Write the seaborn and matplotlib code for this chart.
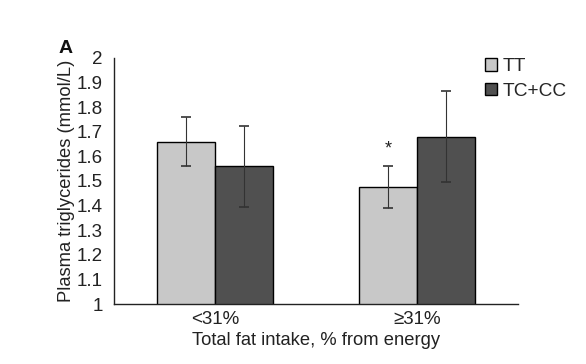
import pandas as pd
import seaborn as sns
import matplotlib.pyplot as plt

intake = ["<31%", "<31%", "≥31%", "≥31%"]
genotype = ["TT", "TC+CC", "TT", "TC+CC"]
means = [1.66, 1.56, 1.475, 1.68]
errs = [0.10, 0.165, 0.085, 0.185]
colors = {"TT": "#c8c8c8", "TC+CC": "#505050"}

df = pd.DataFrame({"intake": intake, "genotype": genotype, "mean": means, "err": errs})

sns.set_style("white")
plt.rcParams['font.family'] = ['Liberation Sans', 'DejaVu Sans']

fig = plt.figure(figsize=(5.86, 3.64), dpi=100)
ax = fig.add_axes([0.1945, 0.1648, 0.6895, 0.6759])

sns.barplot(data=df, x="intake", y="mean", hue="genotype", palette=colors,
            width=0.574, gap=0, errorbar=None, edgecolor="black", linewidth=1,
            ax=ax, legend=False)

# error bars at the bar centres, matched by height
for p in ax.patches:
    cx = p.get_x() + p.get_width() / 2
    h = p.get_height()
    row = df[(abs(df["mean"] - h) < 1e-9)].iloc[0]
    ax.errorbar(cx, row["mean"], yerr=row["err"], color="#333333", lw=0.8,
                capsize=3.5, capthick=1.2)
    if row["intake"] == "≥31%" and row["genotype"] == "TT":
        ax.text(cx, row["mean"] + row["err"] + 0.035, "*", ha="center",
                va="bottom", fontsize=13, color="#222222")

ax.set_ylim(1, 2)
ax.set_yticks([1, 1.1, 1.2, 1.3, 1.4, 1.5, 1.6, 1.7, 1.8, 1.9, 2])
ax.set_yticklabels(["1", "1.1", "1.2", "1.3", "1.4", "1.5", "1.6", "1.7", "1.8", "1.9", "2"])
ax.set_xlim(-0.5, 1.5)
ax.tick_params(axis="both", length=0, labelsize=13.5, colors="#222222")
ax.tick_params(axis="y", pad=8)
ax.tick_params(axis="x", pad=5)
sns.despine(ax=ax, top=True, right=True)
for s in ["left", "bottom"]:
    ax.spines[s].set_color("#222222")
    ax.spines[s].set_linewidth(1)
ax.set_xlabel("Total fat intake, % from energy", fontsize=13.2, color="#222222", labelpad=3)
ax.set_ylabel("Plasma triglycerides (mmol/L)", fontsize=13.2, color="#222222", labelpad=1)

handles = [plt.Rectangle((0, 0), 1, 1, facecolor=colors[g], edgecolor="black", lw=1)
           for g in ["TT", "TC+CC"]]
ax.legend(handles, ["TT", "TC+CC"], loc="upper left", bbox_to_anchor=(0.9, 1.03),
          frameon=False, fontsize=13.8, handlelength=0.6, handleheight=0.6,
          handletextpad=0.3, labelspacing=0.4, borderaxespad=0)

fig.text(0.1, 0.855, "A", fontsize=14, fontweight="bold", color="#111111")

fig.savefig("out.png", dpi=100)
